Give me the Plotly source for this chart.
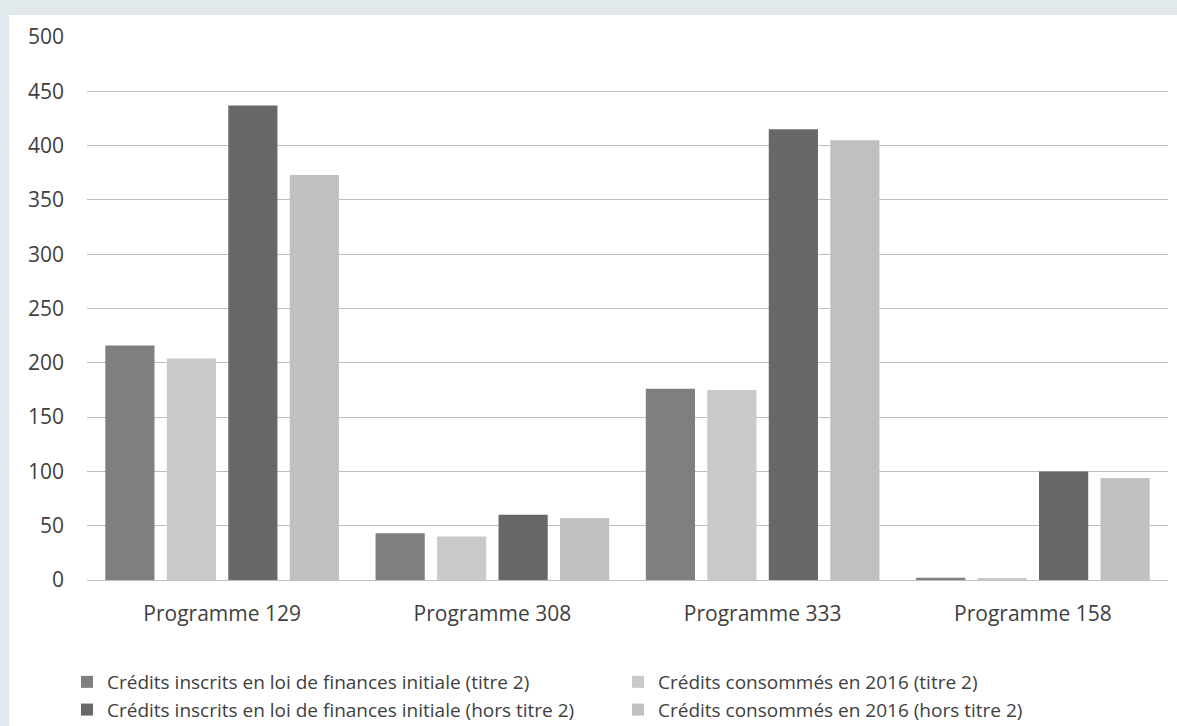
import plotly.graph_objects as go

categories = ["Programme 129", "Programme 308", "Programme 333", "Programme 158"]
series_names = [
    "Crédits inscrits en loi de finances initiale (titre 2)",
    "Crédits consommés en 2016 (titre 2)",
    "Crédits inscrits en loi de finances initiale (hors titre 2)",
    "Crédits consommés en 2016 (hors titre 2)",
]
lfi_t2 = [216, 43, 176, 2]
conso_t2 = [204, 40, 175, 1.5]
lfi_ht2 = [437, 60, 415, 100]
conso_ht2 = [373, 57, 405, 94]
series_values = [lfi_t2, conso_t2, lfi_ht2, conso_ht2]
colors = ["#7f7f7f", "#c9c9c9", "#686868", "#c0c0c0"]
y_ticks = [0, 50, 100, 150, 200, 250, 300, 350, 400, 450, 500]

FONT = "Open Sans"
L, R, T, B = 87, 9, 37, 146
PW, PH = 1177 - L - R, 726 - T - B

fig = go.Figure()
for name, vals, col in zip(series_names, series_values, colors):
    fig.add_trace(go.Bar(x=categories, y=vals, name=name,
                         marker=dict(color=col, line=dict(width=0))))

fig.update_layout(
    width=1177, height=726,
    paper_bgcolor="#e1e9ec",
    plot_bgcolor="white",
    barmode="group",
    bargap=0.09,
    bargroupgap=0.2,
    margin=dict(l=L, r=R, t=T, b=B, autoexpand=False),
    font=dict(family=FONT, size=20, color="#404040"),
    showlegend=True,
    legend=dict(orientation="h", x=(67 - L) / PW, xanchor="left",
                y=-(663 - 580) / PH, yanchor="top",
                entrywidth=506, entrywidthmode="pixels",
                font=dict(family=FONT, size=19, color="#404040"),
                itemwidth=30, tracegroupgap=0, bgcolor="rgba(0,0,0,0)"),
    shapes=[dict(type="rect", xref="paper", yref="paper",
                 x0=-(L - 9) / PW, x1=1 + R / PW, y0=-B / PH - 0.01, y1=1 + 22 / PH,
                 fillcolor="white", line=dict(width=0), layer="below")],
)
fig.update_xaxes(showgrid=False, showline=True, linecolor="#bfbfbf", linewidth=1,
                 ticks="", tickfont=dict(family=FONT, size=21, color="#404040"),
                 ticklabelstandoff=15)
fig.update_yaxes(range=[0, 500], tickvals=y_ticks, showgrid=True, gridcolor="#bfbfbf",
                 gridwidth=1, zeroline=False, showline=False, ticks="",
                 tickfont=dict(family=FONT, size=21, color="#404040"),
                 ticklabelstandoff=22)

fig.write_html("out.html")
